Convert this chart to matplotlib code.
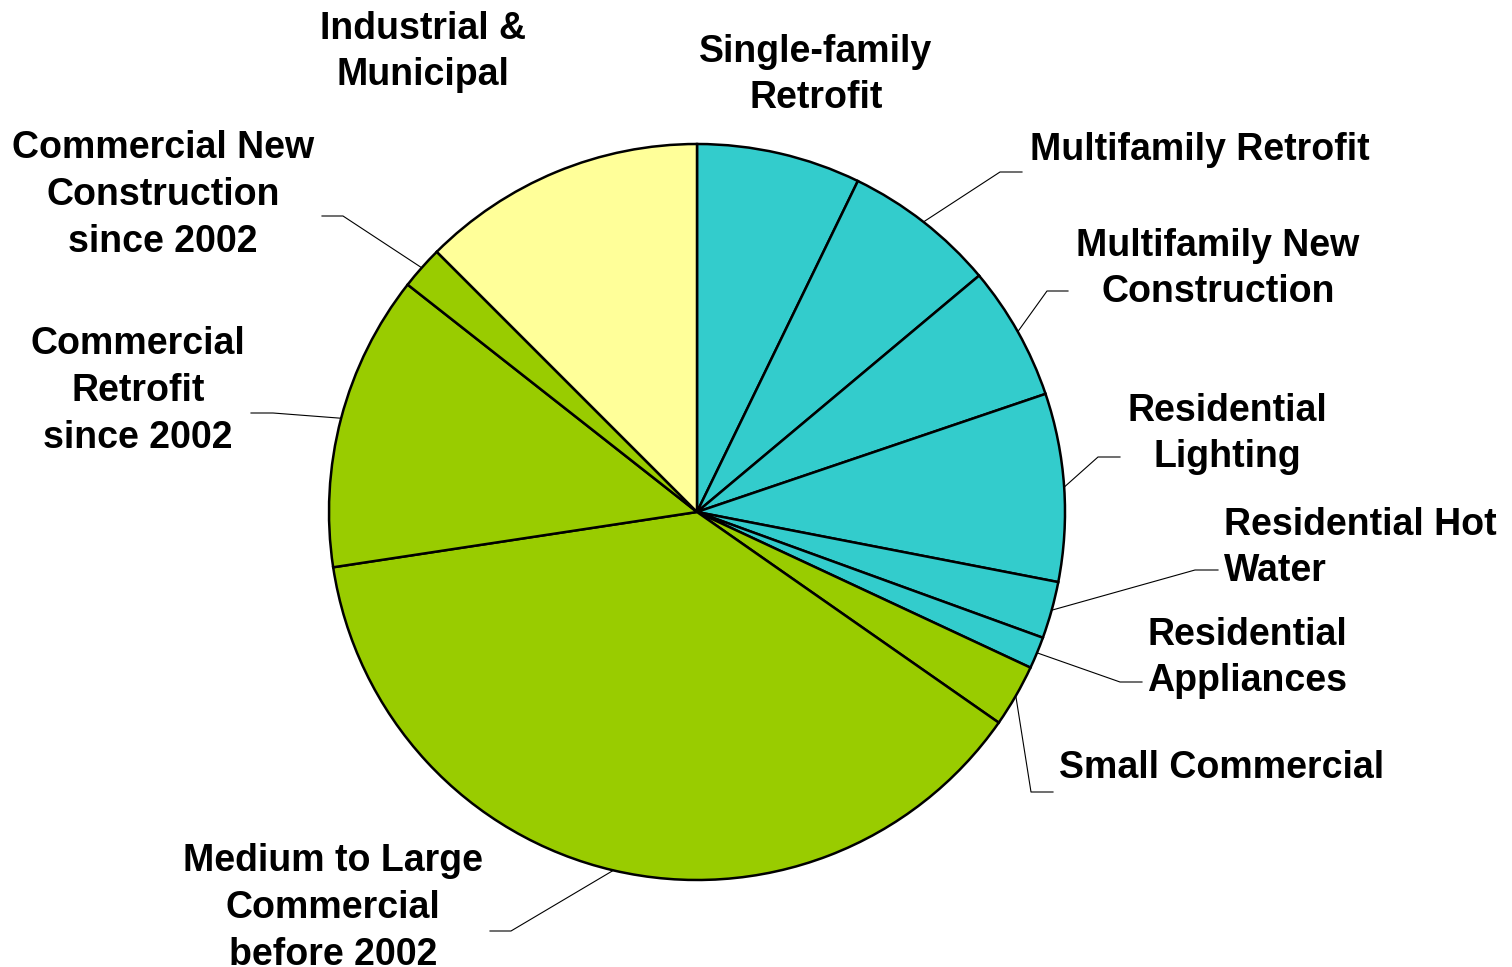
import numpy as np
import matplotlib
matplotlib.use("Agg")
import matplotlib.pyplot as plt

# porcentajes (sentido horario desde arriba)
categorias = ["Single-family\nRetrofit", "Multifamily Retrofit", "Multifamily New\nConstruction",
              "Residential\nLighting", "Residential Hot\nWater", "Residential\nAppliances",
              "Small Commercial", "Medium to Large\nCommercial\nbefore 2002",
              "Commercial\nRetrofit\nsince 2002", "Commercial New\nConstruction\nsince 2002",
              "Industrial &\nMunicipal"]
valores = [7.2, 6.7, 5.9, 8.25, 2.5, 1.4, 2.75, 37.9, 13.0, 1.9, 12.5]
colores = ["#33CCCC"] * 6 + ["#99CC00"] * 4 + ["#FFFF99"]

# posiciones de etiquetas (pixeles, y desde arriba) y codo de la linea guia
etq_pos = [(816, 75), (1200, 150), (1218, 269), (1227, 434), (1224, 548), (1247, 658),
           (1222, 768), (333, 908), (138, 391), (163, 195), (423, 52)]
etq_ha = ["center"] * 4 + ["left"] + ["center"] * 6
codos = [None, (1000, 172, 1022), (1047, 291, 1068), (1098, 457, 1120), (1195, 570, 1218),
         (1120, 682, 1142), (1031, 792, 1053), (511, 931, 490), (273, 413, 251),
         (343, 216, 322), None]

W, H = 1512, 967
cx, cy, R = 697, H - 512, 368

fig = plt.figure(figsize=(15.12, 9.67), dpi=100)
ax = fig.add_axes([0, 0, 1, 1])
ax.set_xlim(0, W)
ax.set_ylim(0, H)
ax.axis("off")

wedges, _ = ax.pie(valores, colors=colores, startangle=90, counterclock=False,
                   center=(cx, cy), radius=R,
                   wedgeprops=dict(edgecolor="black", linewidth=1.8))
ax.set_xlim(0, W)
ax.set_ylim(0, H)
ax.set_aspect("equal")

for w, txt, (tx, ty), ha, codo in zip(wedges, categorias, etq_pos, etq_ha, codos):
    ax.text(tx, H - ty, txt, ha=ha, va="center", fontsize=27, fontweight="bold",
            family="Liberation Sans", linespacing=1.38)
    if codo is None:
        continue
    ang = np.deg2rad((w.theta1 + w.theta2) / 2)
    x0 = cx + R * np.cos(ang)
    y0 = cy + R * np.sin(ang)
    ex, ey, fx = codo
    ax.plot([x0, ex, fx], [y0, H - ey, H - ey], color="black", linewidth=0.8)

fig.savefig("out.png", dpi=100)
